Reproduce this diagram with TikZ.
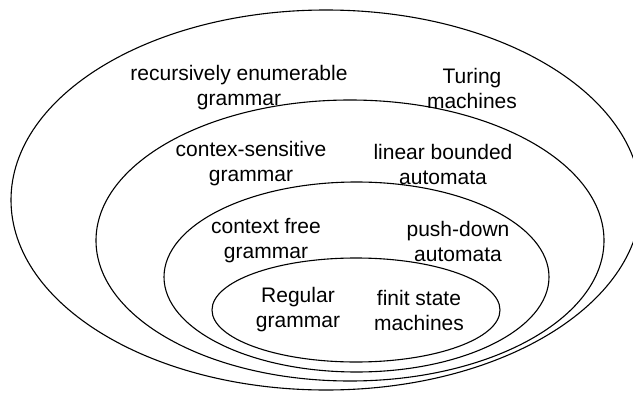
\documentclass[tikz,border=0pt]{standalone}
\usepackage{fontspec}
\setmainfont{Liberation Sans}
\usetikzlibrary{shapes.geometric}
\begin{document}
\begin{tikzpicture}[x=1pt,y=-1pt,
  set/.style={draw, ellipse, line width=1.1pt, inner sep=0pt},
  lbl/.style={align=center, font=\fontsize{21}{25}\selectfont, inner sep=0pt}]
\useasboundingbox (0,0) rectangle (633,399);
\clip (0,0) rectangle (633,399);
\fill[white] (0,0) rectangle (633,399);
\node[set, minimum width=630pt, minimum height=380pt] (outer) at (326,200) {};
\node[set, minimum width=508pt, minimum height=281pt] (cs) at (350,240.5) {};
\node[set, minimum width=385pt, minimum height=190pt] (cf) at (356.5,277) {};
\node[set, minimum width=288pt, minimum height=104pt] (reg) at (356,310) {};
\node[lbl] (reL) at (239,88) {recursively enumerable\\grammar};
\node[lbl] (reR) at (472,88) {Turing\\machines};
\node[lbl] (csL) at (251,164) {contex-sensitive\\grammar};
\node[lbl] (csR) at (443,164) {linear bounded\\automata};
\node[lbl] (cfL) at (266,241) {context free\\grammar};
\node[lbl] (cfR) at (458,241) {push-down\\automata};
\node[lbl] (regL) at (298,310) {Regular\\grammar};
\node[lbl] (regR) at (419,310) {finit state\\machines};
\end{tikzpicture}
\end{document}
